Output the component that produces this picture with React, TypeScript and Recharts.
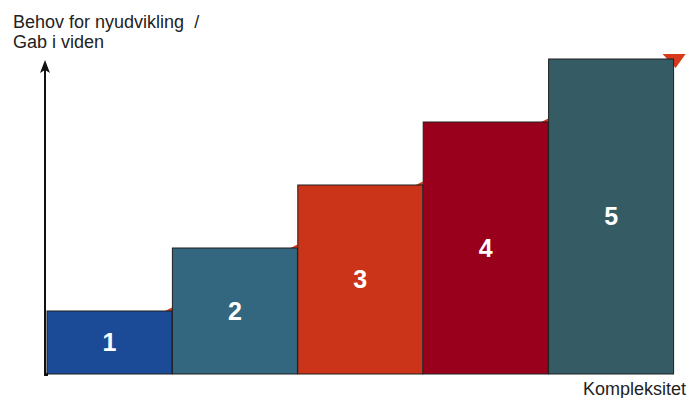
import React from 'react'
import { BarChart, Bar, XAxis, YAxis, LabelList, Cell } from 'recharts'

// trinene 1-5
const levels = ['1', '2', '3', '4', '5']
const needValues = [1, 2, 3, 4, 5]
const barColors = ['#1b4b96', '#33677f', '#cc3419', '#99001b', '#355c65']

const data = levels.map((level, i) => ({ level, need: needValues[i] }))

const ARROW_RED = '#d8391d'

// bar med lille rød pil-stump i øverste højre hjørne
function StepBar(props: any) {
  const { x, y, width, height, fill, index } = props
  const rx = x + width
  const last = index === data.length - 1
  return (
    <g>
      {last ? (
        <polygon
          points={`${rx - 11},${y - 5} ${rx + 12},${y - 5} ${rx + 2},${y + 9}`}
          fill={ARROW_RED}
        />
      ) : (
        <polygon points={`${rx - 7},${y} ${rx},${y - 3.5} ${rx},${y}`} fill={ARROW_RED} />
      )}
      <rect x={x} y={y} width={width} height={height} fill={fill} stroke="#1e1e1e" strokeWidth={1} />
    </g>
  )
}

export default function App() {
  const font = '"Liberation Sans", Arial, sans-serif'
  return (
    <div style={{ position: 'relative', width: 699, height: 398, margin: '-8px 0 0 -8px', background: '#fff', fontFamily: font }}>
      <BarChart
        width={699}
        height={398}
        data={data}
        margin={{ top: 59, right: 25, left: 47, bottom: 24 }}
        barCategoryGap={0}
        barGap={0}
      >
        <XAxis
          dataKey="level"
          height={0}
          tick={false}
          tickLine={false}
          axisLine={{ stroke: '#111', strokeWidth: 3 }}
        />
        <YAxis hide domain={[0, 5]} />
        <Bar dataKey="need" isAnimationActive={false} shape={<StepBar />}>
          {data.map((_d, i) => (
            <Cell key={`c-${i}`} fill={barColors[i]} />
          ))}
          <LabelList
            dataKey="level"
            position="center"
            fill="#fff"
            style={{ fontFamily: font, fontWeight: 700, fontSize: 25 }}
          />
        </Bar>
      </BarChart>
      <svg width={699} height={398} style={{ position: 'absolute', left: 0, top: 0, pointerEvents: 'none' }}>
        <line x1={45} y1={375} x2={45} y2={68} stroke="#111" strokeWidth={2} />
        <line x1={44} y1={374.5} x2={48} y2={374.5} stroke="#111" strokeWidth={3} />
        <polygon points="45,60 40,73 45,70 50,73" fill="#111" />
        <text x={13} y={28} fontSize={18} fill="#222" fontFamily={font}>
          Behov for nyudvikling{'\u00a0\u00a0'}/
        </text>
        <text x={13} y={48} fontSize={18} fill="#222" fontFamily={font}>
          Gab i viden
        </text>
        <text x={583} y={395} fontSize={18} fill="#222" fontFamily={font}>
          Kompleksitet
        </text>
      </svg>
    </div>
  )
}
